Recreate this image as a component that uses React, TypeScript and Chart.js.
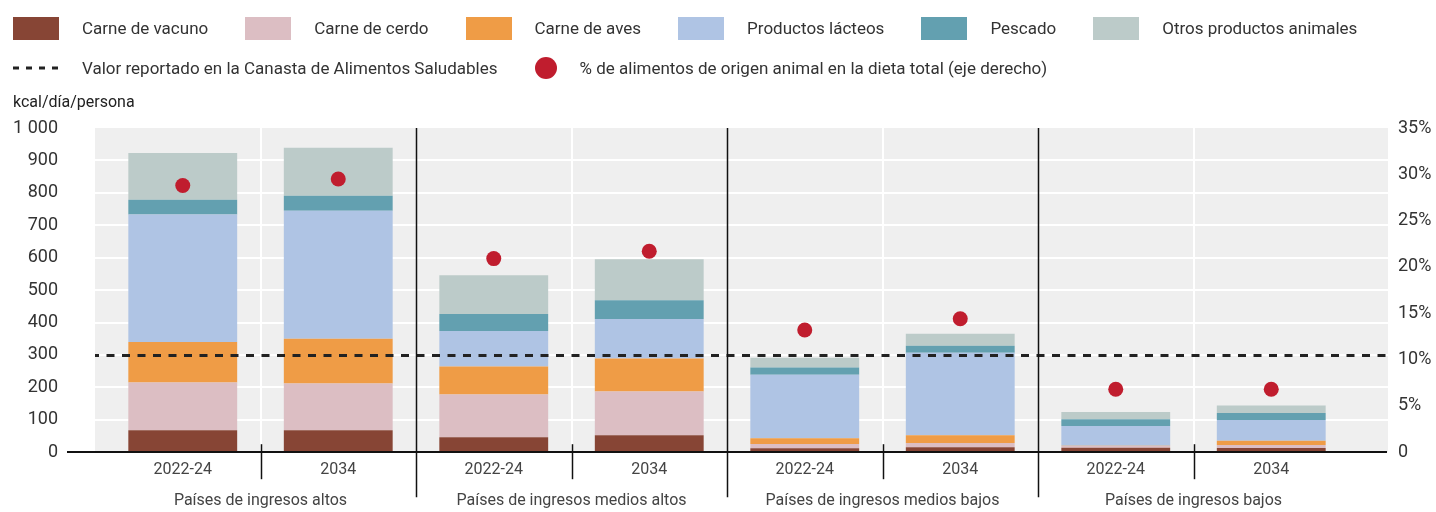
import React, { useEffect, useRef } from 'react';
import { Chart, registerables } from 'chart.js';

Chart.register(...registerables);

// ---- Data ----
const periods = ['2022-24', '2034', '2022-24', '2034', '2022-24', '2034', '2022-24', '2034'];
const groupLabels = [
  'Países de ingresos altos',
  'Países de ingresos medios altos',
  'Países de ingresos medios bajos',
  'Países de ingresos bajos',
];
const beef = [68, 68, 46, 52, 12, 15, 14, 13];
const pork = [147, 144, 132, 135, 13, 13, 5, 9];
const poultry = [125, 138, 86, 102, 18, 24, 1, 13];
const dairy = [393, 395, 110, 122, 196, 255, 61, 64];
const fish = [46, 46, 52, 58, 22, 21, 21, 22];
const otherAnimal = [144, 148, 120, 126, 30, 37, 22, 23];
const animalShare = [28.8, 29.5, 20.9, 21.7, 13.2, 14.4, 6.8, 6.8];
const healthyBasketValue = 300;

const leftTicks = { min: 0, max: 1000, step: 100 };
const rightTicks = { min: 0, max: 35, step: 5 };

const seriesNames = [
  'Carne de vacuno',
  'Carne de cerdo',
  'Carne de aves',
  'Productos lácteos',
  'Pescado',
  'Otros productos animales',
];
const seriesColors = ['#874535', '#dcbec3', '#ef9c46', '#afc4e4', '#63a0b0', '#bccbc9'];
const seriesValues = [beef, pork, poultry, dairy, fish, otherAnimal];
const dotColor = '#c01d2e';
const dashLabel = 'Valor reportado en la Canasta de Alimentos Saludables';
const dotLabel = '% de alimentos de origen animal en la dieta total (eje derecho)';
const yUnit = 'kcal/día/persona';

const FONT = 'Roboto, "Noto Sans", sans-serif';

const decorPlugin = {
  id: 'decor',
  beforeDraw(chart: any) {
    const { ctx, chartArea: a, scales } = chart;
    const y = scales.y;
    const x = scales.x;
    const left = a.left - 10;
    const right = a.right + 39;
    ctx.save();
    ctx.fillStyle = '#efefef';
    ctx.fillRect(left, a.top, right - left, a.bottom - a.top);
    ctx.strokeStyle = '#ffffff';
    ctx.lineWidth = 2;
    y.ticks.forEach((t: any) => {
      if (t.value === leftTicks.min || t.value === leftTicks.max) return;
      const py = Math.round(y.getPixelForValue(t.value));
      ctx.beginPath();
      ctx.moveTo(left, py);
      ctx.lineTo(right, py);
      ctx.stroke();
    });
    // white lines between the two periods inside each group
    for (let i = 0; i < periods.length - 1; i += 2) {
      const px = Math.round((x.getPixelForValue(i) + x.getPixelForValue(i + 1)) / 2);
      ctx.beginPath();
      ctx.moveTo(px, a.top);
      ctx.lineTo(px, a.bottom);
      ctx.stroke();
    }
    ctx.restore();
  },
  afterDatasetsDraw(chart: any) {
    const { ctx, chartArea: a, scales } = chart;
    const y = scales.y;
    const x = scales.x;
    const left = a.left - 10;
    const right = a.right + 39;
    ctx.save();
    // healthy basket dashed line
    const py = Math.round(y.getPixelForValue(healthyBasketValue)) + 0.5;
    ctx.strokeStyle = '#222222';
    ctx.lineWidth = 3;
    ctx.setLineDash([8, 7.5]);
    ctx.lineDashOffset = 4;
    ctx.beginPath();
    ctx.moveTo(left, py);
    ctx.lineTo(right, py);
    ctx.stroke();
    ctx.setLineDash([]);
    ctx.lineDashOffset = 0;
    // baseline
    ctx.strokeStyle = '#111111';
    ctx.lineWidth = 2;
    const by = Math.round(y.getPixelForValue(0));
    ctx.beginPath();
    ctx.moveTo(a.left - 38, by);
    ctx.lineTo(right - 1, by);
    ctx.stroke();
    // separators
    ctx.lineWidth = 1.5;
    for (let i = 0; i < periods.length - 1; i++) {
      const px = Math.round((x.getPixelForValue(i) + x.getPixelForValue(i + 1)) / 2) + 0.5;
      ctx.beginPath();
      if (i % 2 === 1) {
        ctx.moveTo(px, a.top);
        ctx.lineTo(px, a.bottom + 45);
      } else {
        ctx.moveTo(px, a.bottom - 8);
        ctx.lineTo(px, a.bottom + 27);
      }
      ctx.stroke();
    }
    // group labels
    ctx.fillStyle = '#444444';
    ctx.font = `16px ${FONT}`;
    ctx.textAlign = 'center';
    ctx.textBaseline = 'middle';
    groupLabels.forEach((g, gi) => {
      const cx = (x.getPixelForValue(gi * 2) + x.getPixelForValue(gi * 2 + 1)) / 2;
      ctx.fillText(g, cx, a.bottom + 49);
    });
    ctx.restore();
  },
};

export default function App() {
  const ref = useRef<HTMLCanvasElement>(null);

  useEffect(() => {
    if (!ref.current) return;
    Chart.defaults.font.family = FONT;
    const barSets = seriesValues.map((vals, i) => ({
      type: 'bar' as const,
      label: seriesNames[i],
      data: vals,
      backgroundColor: seriesColors[i],
      borderWidth: 0,
      barPercentage: 0.7,
      categoryPercentage: 1,
      yAxisID: 'y',
      order: 1,
    }));
    const chart = new Chart(ref.current, {
      type: 'bar',
      data: {
        labels: periods,
        datasets: [
          ...barSets,
          {
            type: 'line' as const,
            label: dotLabel,
            data: animalShare,
            yAxisID: 'y1',
            showLine: false,
            pointRadius: 7.5,
            pointBackgroundColor: dotColor,
            pointBorderWidth: 0,
            borderColor: dotColor,
            order: 0,
          } as any,
        ],
      },
      options: {
        responsive: false,
        animation: false,
        devicePixelRatio: 1,
        layout: { padding: { top: 128, left: 0, right: 0, bottom: 0 } },
        plugins: { legend: { display: false }, tooltip: { enabled: false } },
        scales: {
          x: {
            type: 'category',
            stacked: true,
            offset: true,
            grid: { display: false, drawTicks: false },
            border: { display: false },
            ticks: {
              font: { size: 16, family: FONT },
              color: '#444444',
              padding: 8,
              maxRotation: 0,
              autoSkip: false,
            },
            afterFit: (axis: any) => {
              axis.height = 53.2;
            },
          },
          y: {
            position: 'left',
            stacked: true,
            min: leftTicks.min,
            max: leftTicks.max,
            grid: { display: false, drawTicks: false },
            border: { display: false },
            ticks: {
              stepSize: leftTicks.step,
              font: { size: 18, family: FONT },
              color: '#333333',
              padding: 47,
              callback: (v: any) => String(v).replace(/\B(?=(\d{3})+(?!\d))/g, ' '),
            },
            afterFit: (axis: any) => {
              axis.width = 105;
            },
          },
          y1: {
            position: 'right',
            min: rightTicks.min,
            max: rightTicks.max,
            grid: { display: false, drawTicks: false },
            border: { display: false },
            ticks: {
              stepSize: rightTicks.step,
              font: { size: 18, family: FONT },
              color: '#333333',
              padding: 49,
              callback: (v: any) => (v === 0 ? '0' : `${v}%`),
            },
            afterFit: (axis: any) => {
              axis.width = 87;
            },
          },
        },
      },
      plugins: [decorPlugin],
    });
    return () => chart.destroy();
  }, []);

  const textStyle: React.CSSProperties = {
    fontSize: 17,
    color: '#333',
    whiteSpace: 'nowrap',
    lineHeight: '23px',
  };

  return (
    <div
      style={{
        position: 'absolute',
        left: 0,
        top: 0,
        width: 1436,
        height: 512,
        overflow: 'hidden',
        fontFamily: FONT,
        background: '#fff',
      }}
    >
      <canvas
        ref={ref}
        width={1436}
        height={512}
        style={{ position: 'absolute', left: 0, top: 0, width: 1436, height: 512 }}
      />
      <div style={{ position: 'absolute', left: 13, top: 17, display: 'flex', alignItems: 'center', height: 23 }}>
        {seriesNames.map((n, i) => (
          <React.Fragment key={n}>
            <span style={{ display: 'inline-block', width: 46, height: 23, background: seriesColors[i], marginRight: 23 }} />
            <span style={{ ...textStyle, marginRight: 37 }}>{n}</span>
          </React.Fragment>
        ))}
      </div>
      <div style={{ position: 'absolute', left: 13, top: 57, display: 'flex', alignItems: 'center', height: 22 }}>
        <svg width={46} height={22} style={{ marginRight: 23, display: 'block' }}>
          <line x1={0} y1={11} x2={46} y2={11} stroke="#222" strokeWidth={3} strokeDasharray="6 7" />
        </svg>
        <span style={{ ...textStyle, marginRight: 37 }}>{dashLabel}</span>
        <span style={{ display: 'inline-block', width: 22, height: 22, borderRadius: '50%', background: dotColor, marginRight: 23 }} />
        <span style={textStyle}>{dotLabel}</span>
      </div>
      <div style={{ position: 'absolute', left: 13, top: 92, fontSize: 16, lineHeight: '20px', color: '#222', whiteSpace: 'nowrap' }}>
        {yUnit}
      </div>
    </div>
  );
}
